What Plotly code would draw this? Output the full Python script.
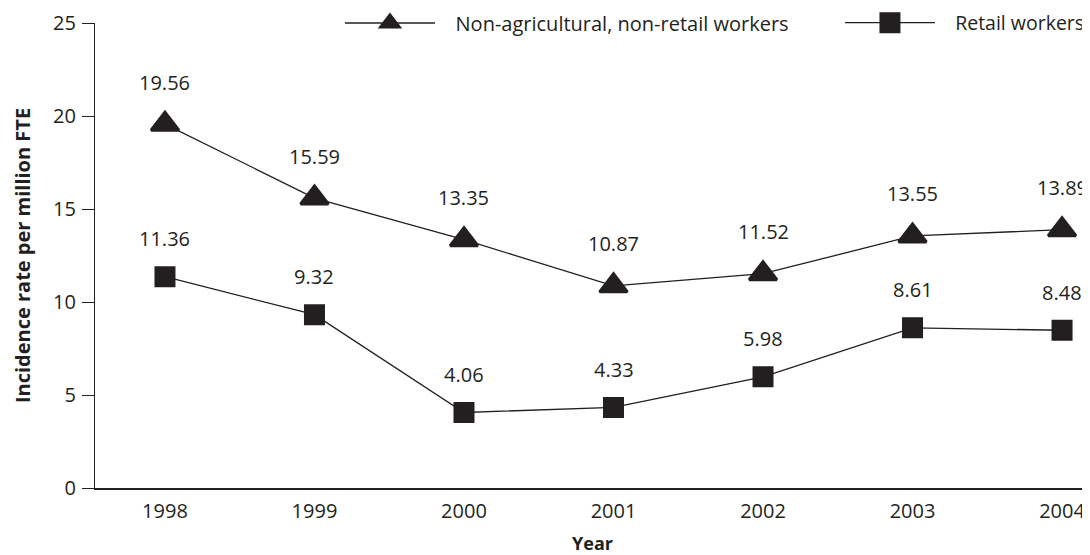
import plotly.graph_objects as go

years = [1998, 1999, 2000, 2001, 2002, 2003, 2004]
non_agri = [19.56, 15.59, 13.35, 10.87, 11.52, 13.55, 13.89]
retail = [11.36, 9.32, 4.06, 4.33, 5.98, 8.61, 8.48]
y_ticks = [0, 5, 10, 15, 20, 25]
series_names = ["Non-agricultural, non-retail workers", "Retail workers"]

INK = "#231f20"
FONT = "Open Sans"
PAD = "\u00a0\u00a0\u00a0"

fig = go.Figure()
fig.add_trace(go.Scatter(
    x=years, y=non_agri, mode="lines+markers",
    name=PAD + series_names[0], legend="legend",
    line=dict(color=INK, width=1.3),
    marker=dict(symbol="triangle-up", size=24, color=INK, line=dict(color=INK, width=3)),
))
fig.add_trace(go.Scatter(
    x=years, y=retail, mode="lines+markers",
    name=PAD + series_names[1], legend="legend2",
    line=dict(color=INK, width=1.3),
    marker=dict(symbol="square", size=16, color=INK, line=dict(color=INK, width=5)),
))

for series, shift in ((non_agri, 42), (retail, 38)):
    for xv, yv in zip(years, series):
        fig.add_annotation(x=xv, y=yv, text=f"{yv:.2f}", showarrow=False,
                           yshift=shift, font=dict(family=FONT, size=20, color=INK))

leg = dict(orientation="h", y=1.0, xanchor="left", yanchor="middle",
           itemwidth=90, bgcolor="rgba(0,0,0,0)", borderwidth=0)

fig.update_layout(
    width=1082, height=547,
    margin=dict(l=87, r=0, t=15, b=67, autoexpand=False),
    paper_bgcolor="white", plot_bgcolor="white",
    font=dict(family=FONT, size=20, color=INK),
    showlegend=True,
    legend=dict(leg, x=0.2462, font=dict(family=FONT, size=20, color=INK)),
    legend2=dict(leg, x=0.7487, font=dict(family=FONT, size=19.5, color=INK)),
)
fig.update_xaxes(
    range=[1997.532, 2004.187], tickvals=years, ticktext=[str(y) for y in years],
    showline=True, linecolor=INK, linewidth=1.5, showgrid=False, zeroline=False,
    ticks="", ticklabelstandoff=4, tickfont=dict(family=FONT, size=20, color=INK),
    title=dict(text="<b>Year</b>", font=dict(family=FONT, size=18, color=INK), standoff=19),
)
fig.update_yaxes(
    range=[0, 25], tickvals=y_ticks, ticktext=[str(v) for v in y_ticks],
    showline=True, linecolor=INK, linewidth=1.3, showgrid=False, zeroline=False,
    ticks="outside", ticklen=12, tickwidth=1.3, tickcolor=INK, ticklabelstandoff=2,
    tickfont=dict(family=FONT, size=20, color=INK),
    title=dict(text="<b>Incidence rate per million FTE</b>",
               font=dict(family=FONT, size=20, color=INK), standoff=16),
)

fig.write_html("out.html")
